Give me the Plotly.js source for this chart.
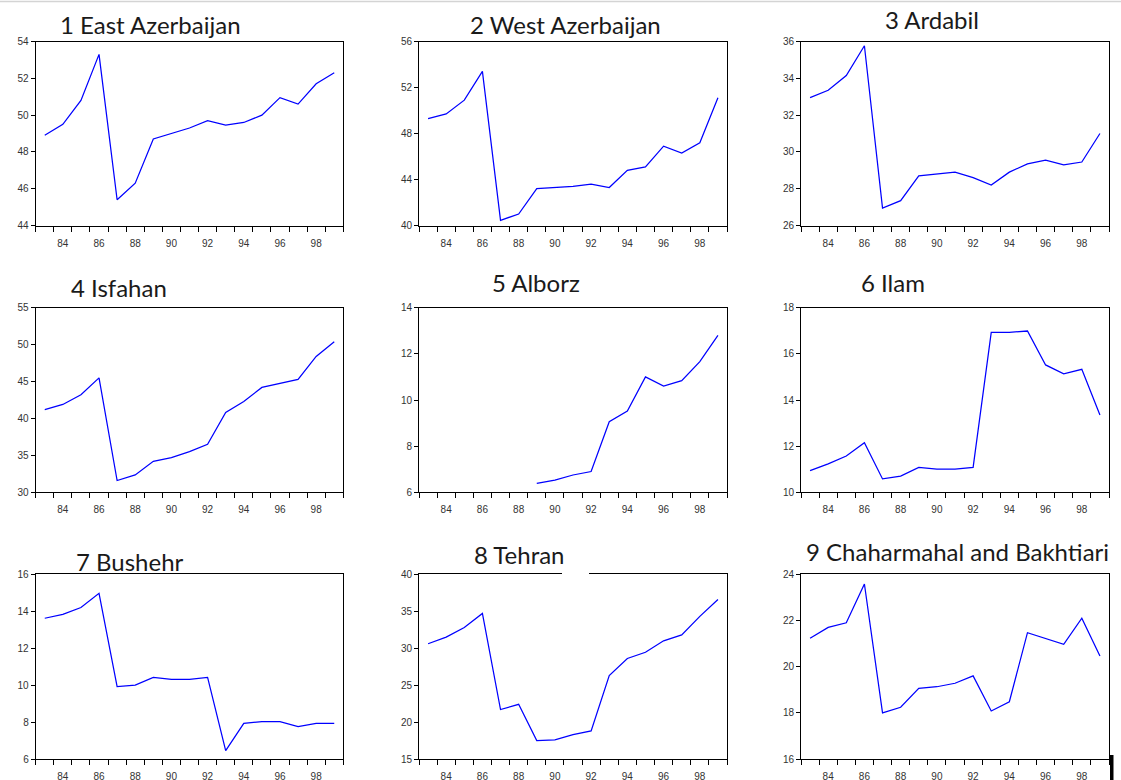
<!DOCTYPE html>
<html>
<head>
<meta charset="utf-8">
<script src="https://cdn.plot.ly/plotly-3.0.1.min.js"></script>
<style>
  html, body { margin: 0; padding: 0; background: #fff; }
  #chart { width: 1121px; height: 780px; }
</style>
</head>
<body>
<div id="chart"></div>
<script>
// Iranian calendar years 1383-1399 (labelled by last two digits)
const years = [83, 84, 85, 86, 87, 88, 89, 90, 91, 92, 93, 94, 95, 96, 97, 98, 99];

const titles = [
  "1 East Azerbaijan", "2 West Azerbaijan", "3 Ardabil",
  "4 Isfahan", "5 Alborz", "6 Ilam",
  "7 Bushehr", "8 Tehran", "9 Chaharmahal and Bakhtiari"
];

const eastAzerbaijan = [48.9, 49.5, 50.8, 53.3, 45.4, 46.3, 48.7, 49.0, 49.3, 49.7, 49.45, 49.6, 50.0, 50.95, 50.6, 51.7, 52.3];
const westAzerbaijan = [49.3, 49.7, 50.9, 53.4, 40.45, 41.0, 43.2, 43.3, 43.4, 43.6, 43.3, 44.8, 45.1, 46.9, 46.3, 47.2, 51.1];
const ardabil        = [32.95, 33.35, 34.15, 35.77, 26.95, 27.35, 28.7, 28.8, 28.9, 28.6, 28.2, 28.9, 29.35, 29.55, 29.3, 29.45, 31.0];
const isfahan        = [41.2, 41.9, 43.2, 45.5, 31.6, 32.35, 34.2, 34.7, 35.5, 36.5, 40.8, 42.3, 44.2, 44.7, 45.3, 48.4, 50.4];
const alborz         = [null, null, null, null, null, null, 6.39, 6.53, 6.75, 6.9, 9.06, 9.52, 11.0, 10.6, 10.84, 11.66, 12.8];
const ilam           = [10.94, 11.23, 11.57, 12.15, 10.58, 10.7, 11.08, 11.0, 11.0, 11.08, 16.93, 16.93, 16.99, 15.52, 15.13, 15.33, 13.35];
const bushehr        = [13.62, 13.83, 14.2, 14.97, 9.92, 10.0, 10.42, 10.31, 10.31, 10.42, 6.45, 7.93, 8.02, 8.02, 7.75, 7.93, 7.93];
const tehran         = [30.6, 31.5, 32.8, 34.7, 21.7, 22.4, 17.5, 17.6, 18.3, 18.8, 26.3, 28.6, 29.45, 31.0, 31.8, 34.3, 36.6];
const chaharmahal    = [21.23, 21.7, 21.9, 23.58, 18.0, 18.24, 19.06, 19.13, 19.28, 19.6, 18.08, 18.48, 21.47, 21.23, 20.97, 22.1, 20.46];

const seriesList = [eastAzerbaijan, westAzerbaijan, ardabil, isfahan, alborz, ilam, bushehr, tehran, chaharmahal];

// y-axis ranges [min, max, step]
const yMin  = [44, 40, 26, 30, 6, 10, 6, 15, 16];
const yMax  = [54, 56, 36, 55, 14, 18, 16, 40, 24];
const yStep = [2, 4, 2, 5, 2, 2, 2, 5, 2];

// ---- layout geometry (pixels) ----
const W = 1121, H = 780;
const colLeft  = [35.7, 419, 801];
const colRight = [343.3, 727, 1109];
const rowTop    = [41.5, 307.7, 574.3];
const rowBottom = [225.5, 492.3, 759];
const titlePos = [
  [150, 24], [565, 24], [932, 19],
  [119, 287], [536, 282], [893, 282],
  [130, 561], [519, 554], [957, 551]
];

const data = [];
const layout = {
  width: W, height: H,
  margin: {l: 0, r: 0, t: 0, b: 0},
  paper_bgcolor: '#fff', plot_bgcolor: '#fff',
  showlegend: false,
  annotations: [],
  shapes: []
};

for (let i = 0; i < 9; i++) {
  const r = Math.floor(i / 3), c = i % 3;
  const n = i + 1;
  const xa = n === 1 ? 'xaxis' : 'xaxis' + n;
  const ya = n === 1 ? 'yaxis' : 'yaxis' + n;
  data.push({
    x: years, y: seriesList[i],
    type: 'scatter', mode: 'lines',
    line: {color: '#0000ff', width: 1.25},
    connectgaps: false,
    xaxis: 'x' + (n === 1 ? '' : n), yaxis: 'y' + (n === 1 ? '' : n),
    hoverinfo: 'x+y'
  });
  layout[xa] = {
    domain: [colLeft[c] / W, colRight[c] / W],
    anchor: 'y' + (n === 1 ? '' : n),
    range: [82.5, 99.5],
    tickmode: 'linear', tick0: 84, dtick: 2,
    ticks: 'outside', ticklen: 5, tickcolor: 'rgba(0,0,0,0)',
    minor: {tickmode: 'linear', tick0: 82.5, dtick: 1, ticks: 'outside', ticklen: 5, tickwidth: 1, tickcolor: '#000', showgrid: false},
    showgrid: false, zeroline: false,
    showline: true, linecolor: '#000', linewidth: 1, mirror: true,
    tickfont: {family: 'Liberation Sans, Arial, sans-serif', size: 10, color: '#333'},
    ticklabelstandoff: 3,
    fixedrange: true
  };
  layout[ya] = {
    domain: [1 - rowBottom[r] / H, 1 - rowTop[r] / H],
    anchor: 'x' + (n === 1 ? '' : n),
    range: [yMin[i], yMax[i]],
    tickmode: 'linear', tick0: yMin[i], dtick: yStep[i],
    ticks: 'outside', ticklen: 4, tickcolor: '#000', tickwidth: 1,
    showgrid: false, zeroline: false,
    showline: true, linecolor: '#000', linewidth: 1, mirror: true,
    tickfont: {family: 'Liberation Sans, Arial, sans-serif', size: 10, color: '#333'},
    fixedrange: true
  };
  layout.annotations.push({
    text: titles[i],
    xref: 'paper', yref: 'paper',
    x: titlePos[i][0] / W, y: 1 - titlePos[i][1] / H,
    xanchor: 'center', yanchor: 'middle',
    showarrow: false,
    font: {family: 'Lato, "Open Sans", sans-serif', size: 24, color: '#1a1a1a'}
  });
}

// page artefacts: faint top rule, gap in Tehran frame, black bar bottom-right
layout.shapes.push({type: 'line', xref: 'paper', yref: 'paper', x0: 0, x1: 1, y0: 1 - 1.5 / H, y1: 1 - 1.5 / H, line: {color: '#d4d4d4', width: 1.5}});
layout.shapes.push({type: 'rect', xref: 'paper', yref: 'paper', x0: 562 / W, x1: 589 / W, y0: 1 - 577 / H, y1: 1 - 571 / H, fillcolor: '#fff', line: {width: 0}, layer: 'above'});
layout.shapes.push({type: 'rect', xref: 'paper', yref: 'paper', x0: 1110 / W, x1: 1113.5 / W, y0: 0, y1: 1 - 755 / H, fillcolor: '#000', line: {width: 0}, layer: 'above'});

Plotly.newPlot('chart', data, layout, {displayModeBar: false, staticPlot: true});
</script>
</body>
</html>
